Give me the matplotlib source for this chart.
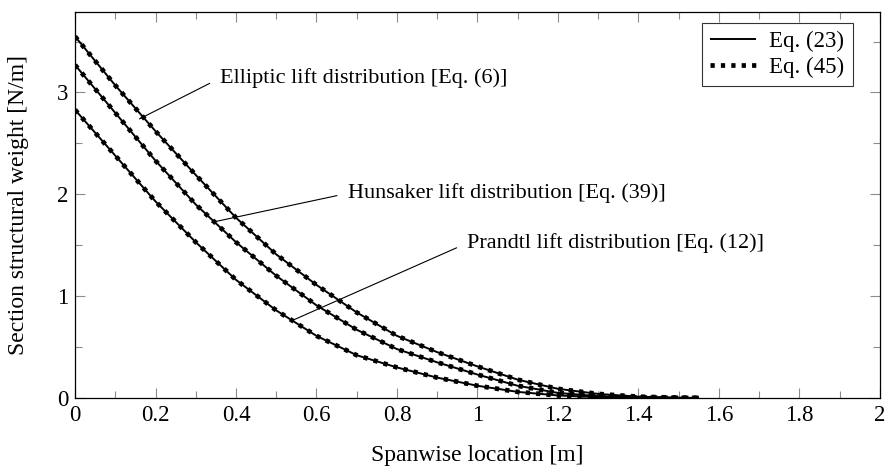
import matplotlib
matplotlib.use("Agg")
import matplotlib.pyplot as plt
from matplotlib.ticker import MultipleLocator

x = [0.0, 0.1, 0.2, 0.3, 0.4, 0.5, 0.6, 0.7, 0.8, 0.9, 1.0, 1.1, 1.2, 1.3, 1.4, 1.5, 1.55]
elliptic = [3.55, 3.07, 2.62, 2.19, 1.77, 1.41, 1.11, 0.84, 0.61, 0.45, 0.31, 0.18, 0.09, 0.04, 0.013, 0.003, 0.0]
hunsaker = [3.27, 2.80, 2.33, 1.90, 1.53, 1.20, 0.91, 0.67, 0.48, 0.35, 0.23, 0.12, 0.05, 0.018, 0.005, 0.001, 0.0]
prandtl = [2.83, 2.38, 1.93, 1.53, 1.16, 0.86, 0.61, 0.42, 0.30, 0.20, 0.12, 0.06, 0.025, 0.008, 0.002, 0.0005, 0.0]

labels = ["Elliptic lift distribution [Eq. (6)]",
          "Hunsaker lift distribution [Eq. (39)]",
          "Prandtl lift distribution [Eq. (12)]"]
label_anchor = [(0.16, 2.74), (0.34, 1.725), (0.542, 0.765)]
label_pos = [(0.36, 3.14), (0.678, 2.01), (0.974, 1.52)]
legend_labels = ["Eq. (23)", "Eq. (45)"]

plt.rcParams['font.family'] = ['Liberation Serif', 'DejaVu Serif']
plt.rcParams['mathtext.fontset'] = 'stix'

fig = plt.figure(figsize=(8.87, 4.68), dpi=100)
ax = fig.add_axes([75/887, 1 - 398/468, 805/887, 386/468])

for i, y in enumerate([elliptic, hunsaker, prandtl]):
    l1, = ax.plot(x, y, color='black', lw=1.4, solid_capstyle='butt')
    l2, = ax.plot(x, y, color='black', lw=3.4, linestyle=(0, (0.9, 1.3)),
                  dash_capstyle='butt')
    if i == 0:
        h1, h2 = l1, l2

for (ax0, ay0), (tx, ty), lab in zip(label_anchor, label_pos, labels):
    ax.annotate(lab, xy=(ax0, ay0), xytext=(tx, ty), fontsize=16,
                va='center', ha='left',
                arrowprops=dict(arrowstyle='-', color='black', lw=0.8,
                                shrinkA=6, shrinkB=0, relpos=(0, 0.5)))

leg = ax.legend([h1, h2], legend_labels, loc='upper right', fontsize=16.5,
                frameon=True, fancybox=False, edgecolor='black',
                handlelength=2.0, handletextpad=0.6, borderpad=0.35,
                labelspacing=0.2, borderaxespad=0,
                bbox_to_anchor=(0.966, 0.971))
leg.get_frame().set_linewidth(0.8)
leg.legend_handles[1].set_linewidth(3.4)

ax.set_xlim(0, 2)
ax.set_ylim(0, 3.79)
ax.xaxis.set_minor_locator(MultipleLocator(0.1))
ax.yaxis.set_minor_locator(MultipleLocator(0.5))
ax.set_xticks([0, 0.2, 0.4, 0.6, 0.8, 1, 1.2, 1.4, 1.6, 1.8, 2])
ax.set_xticklabels(["0", "0.2", "0.4", "0.6", "0.8", "1", "1.2", "1.4", "1.6", "1.8", "2"])
ax.set_yticks([0, 1, 2, 3])
ax.set_yticklabels(["0", "1", "2", "3"])
ax.tick_params(which='both', direction='in', top=True, right=True,
               color='0.55', labelsize=16.5, width=0.8)
ax.tick_params(which='major', length=7, pad=5)
ax.tick_params(which='minor', length=5)
for s in ax.spines.values():
    s.set_linewidth(0.9)

ax.set_xlabel("Spanwise location [m]", fontsize=17, labelpad=14)
ax.set_ylabel("Section structural weight [N/m]", fontsize=17, labelpad=20)

fig.savefig("out.png", dpi=100)
